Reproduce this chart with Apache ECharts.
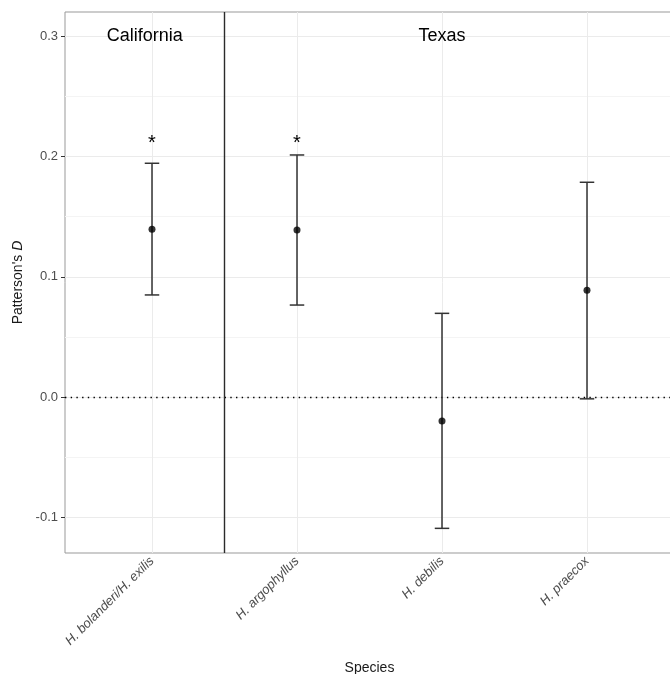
<!DOCTYPE html>
<html>
<head>
<meta charset="utf-8">
<script src="https://cdn.jsdelivr.net/npm/echarts@6/dist/echarts.min.js"></script>
<style>
html,body{margin:0;padding:0;background:#fff;}
#chart{width:670px;height:674px;}
</style>
</head>
<body>
<div id="chart"></div>
<script>
// ---- data ----
const categories = ['H. bolanderi/H. exilis', 'H. argophyllus', 'H. debilis', 'H. praecox'];
const categoryPos = [1, 2, 3, 4];
const dValues = [0.1395, 0.1389, -0.0200, 0.0888];
const lowerCI = [0.0849, 0.0765, -0.1092, -0.0015];
const upperCI = [0.1944, 0.2013, 0.0696, 0.1786];
const signifMarks = ['*', '*', '', ''];
const signifY = [0.2135, 0.2135, null, null];
const regionNames = ['California', 'Texas'];
const regionX = [0.95, 3];
const regionY = [0.3, 0.3];
const regionDivider = [1.5];
const yTicks = [-0.1, 0.0, 0.1, 0.2, 0.3];
const yMinorTicks = [-0.05, 0.05, 0.15, 0.25];

const FONT = '"Liberation Sans", Arial, Helvetica, sans-serif';

const chart = echarts.init(document.getElementById('chart'), null, {renderer: 'canvas'});

const errData = categoryPos.map((x, i) => [x, lowerCI[i], upperCI[i]]);
const pointData = categoryPos.map((x, i) => [x, dValues[i]]);
const starData = [];
categoryPos.forEach((x, i) => { if (signifMarks[i]) starData.push([x, signifY[i], signifMarks[i]]); });
const regionData = regionNames.map((n, i) => [regionX[i], regionY[i], n]);

const option = {
  animation: false,
  backgroundColor: '#ffffff',
  grid: {
    left: 65, top: 12, right: -4, bottom: 121,
    outerBoundsMode: 'none', containLabel: false,
    show: true, borderColor: '#999999', borderWidth: 1, backgroundColor: 'transparent'
  },
  xAxis: {
    type: 'value', min: 0.4, max: 4.6,
    name: 'Species', nameLocation: 'middle', nameGap: 108,
    nameTextStyle: {fontFamily: FONT, fontSize: 14, color: '#1a1a1a'},
    axisLine: {show: false},
    splitLine: {show: false},
    axisTick: {show: true, customValues: categoryPos, length: 4, lineStyle: {color: '#333333', width: 1}},
    axisLabel: {
      customValues: categoryPos, rotate: 45, margin: 6,
      fontFamily: FONT, fontSize: 13, fontStyle: 'italic', color: '#4d4d4d',
      formatter: v => categories[Math.round(v) - 1] || ''
    }
  },
  yAxis: {
    type: 'value', min: -0.1297, max: 0.3202,
    name: "{a|Patterson's }{b|D}", nameLocation: 'middle', nameGap: 38, nameRotate: 90,
    nameTextStyle: {
      fontFamily: FONT, fontSize: 14, color: '#1a1a1a',
      rich: {
        a: {fontFamily: FONT, fontSize: 14, color: '#1a1a1a'},
        b: {fontFamily: FONT, fontSize: 14, color: '#1a1a1a', fontStyle: 'italic'}
      }
    },
    axisLine: {show: false},
    splitLine: {show: false},
    axisTick: {show: true, customValues: yTicks, length: 4, lineStyle: {color: '#333333', width: 1}},
    axisLabel: {
      customValues: yTicks, margin: 7,
      fontFamily: FONT, fontSize: 13, color: '#4d4d4d',
      formatter: v => v.toFixed(1)
    }
  },
  series: [
    {
      type: 'line', data: [], silent: true, z: 1,
      markLine: {
        silent: true, symbol: 'none', label: {show: false}, animation: false,
        data: [
          ...yMinorTicks.map(v => ({yAxis: v, lineStyle: {color: '#f4f4f4', width: 1, type: 'solid'}})),
          ...yTicks.map(v => ({yAxis: v, lineStyle: {color: '#ebebeb', width: 1, type: 'solid'}})),
          ...categoryPos.map(v => ({xAxis: v, lineStyle: {color: '#ebebeb', width: 1, type: 'solid'}}))
        ]
      }
    },
    {
      type: 'line', data: [], silent: true, z: 3,
      markLine: {
        silent: true, symbol: 'none', label: {show: false}, animation: false,
        data: [
          {yAxis: 0, lineStyle: {color: '#000000', width: 1.4, type: [1.4, 4.3]}},
          ...regionDivider.map(v => ({xAxis: v, lineStyle: {color: '#2b2b2b', width: 1.4, type: 'solid'}}))
        ]
      }
    },
    {
      type: 'custom', z: 5, silent: true,
      data: errData,
      renderItem: function (params, api) {
        const x = api.value(0), lo = api.value(1), hi = api.value(2);
        const top = api.coord([x, hi]);
        const bot = api.coord([x, lo]);
        const half = api.size([0.05, 0])[0];
        const style = {stroke: '#333333', lineWidth: 1.5, fill: null};
        return {
          type: 'group',
          children: [
            {type: 'line', shape: {x1: top[0], y1: top[1], x2: bot[0], y2: bot[1]}, style: style},
            {type: 'line', shape: {x1: top[0] - half, y1: top[1], x2: top[0] + half, y2: top[1]}, style: style},
            {type: 'line', shape: {x1: bot[0] - half, y1: bot[1], x2: bot[0] + half, y2: bot[1]}, style: style}
          ]
        };
      }
    },
    {
      type: 'scatter', z: 6, silent: true,
      data: pointData, symbol: 'circle', symbolSize: 7,
      itemStyle: {color: '#000000'}
    },
    {
      type: 'custom', z: 7, silent: true,
      data: starData,
      renderItem: function (params, api) {
        const p = api.coord([api.value(0), api.value(1)]);
        return {
          type: 'text',
          style: {x: p[0], y: p[1] + 3, text: starData[params.dataIndex][2], fontFamily: FONT, fontSize: 20,
                  fill: '#000', align: 'center', verticalAlign: 'middle'}
        };
      }
    },
    {
      type: 'custom', z: 7, silent: true,
      data: regionData,
      renderItem: function (params, api) {
        const p = api.coord([api.value(0), api.value(1)]);
        return {
          type: 'text',
          style: {x: p[0], y: p[1], text: regionData[params.dataIndex][2], fontFamily: FONT, fontSize: 18,
                  fill: '#000', align: 'center', verticalAlign: 'middle'}
        };
      }
    }
  ]
};
chart.setOption(option);
</script>
</body>
</html>
